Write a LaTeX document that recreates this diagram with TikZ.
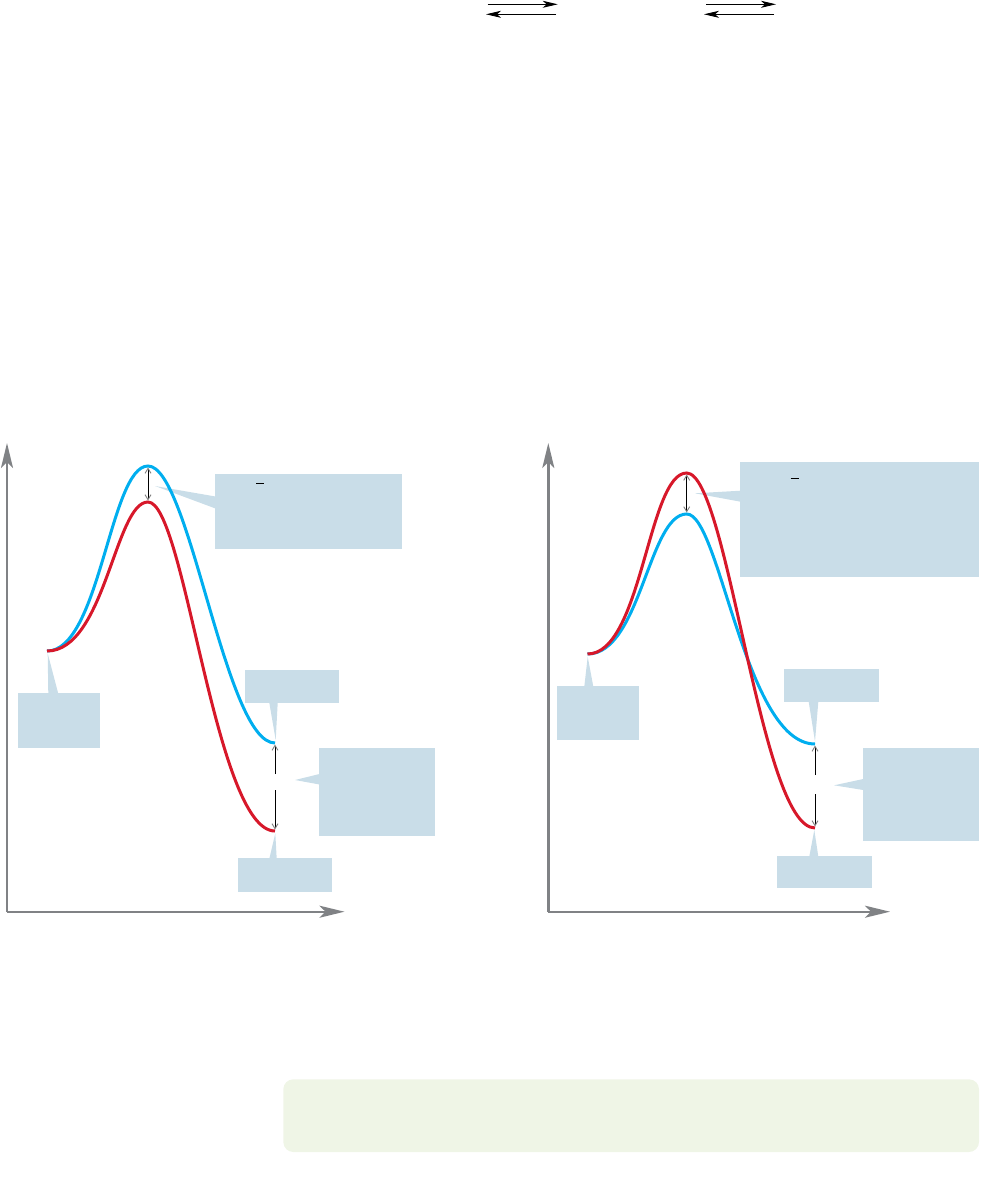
\documentclass[tikz,border=0pt]{standalone}
\usetikzlibrary{arrows.meta}
\definecolor{axisgray}{HTML}{808285}
\definecolor{curveblue}{HTML}{00AEEF}
\definecolor{curvered}{HTML}{D7182A}
\definecolor{callout}{HTML}{C9DDE8}
\definecolor{notegreen}{HTML}{EFF5E6}
\begin{document}
\begin{tikzpicture}[x=1pt,y=-1pt,
  axis/.style={draw=axisgray,line width=2.4pt,-{Stealth[length=25pt,width=12pt,inset=6pt]}},
  eqarrow/.style={draw=black,line width=1pt,-{Stealth[length=15pt,width=7pt,inset=4pt]}},
  bluecurve/.style={draw=curveblue,line width=3pt},
  redcurve/.style={draw=curvered,line width=3pt},
  gaparrow/.style={draw=black,line width=0.9pt,-{Straight Barb[length=5pt,width=6pt,color=gray]}},
  gapboth/.style={draw=black,line width=0.9pt,{Straight Barb[length=5pt,width=6pt,color=gray]}-{Straight Barb[length=5pt,width=6pt,color=gray]}},
  box/.style={fill=callout,inner sep=0pt,outer sep=0pt},
  pointer/.style={fill=callout},
  bar/.style={draw=black,line width=0.9pt}
]
\useasboundingbox (0,0) rectangle (980,1182);

% ---------- top equilibrium arrows ----------
\coordinate (e1a) at (487.7,4.3); \coordinate (e1b) at (557.7,4.3);
\coordinate (e1c) at (556,14.3);  \coordinate (e1d) at (486,14.3);
\coordinate (e2a) at (706,4.3);   \coordinate (e2b) at (776,4.3);
\coordinate (e2c) at (774,14.3);  \coordinate (e2d) at (704,14.3);
\draw[eqarrow] (e1a) -- (e1b);
\draw[eqarrow] (e1c) -- (e1d);
\draw[eqarrow] (e2a) -- (e2b);
\draw[eqarrow] (e2c) -- (e2d);

% ================= LEFT PANEL =================
\coordinate (LO) at (7,911.7);
\coordinate (LY) at (7,443);
\coordinate (LX) at (344.5,911.7);
\draw[axis] (LO) -- (LY);
\draw[axis] (LO) -- (LX);

\coordinate (LS)  at (47,651);
\coordinate (LBP) at (148,466);
\coordinate (LRP) at (148,502);
\coordinate (LBE) at (275,743);
\coordinate (LRE) at (275,831);

% callout boxes
\path[box] (215,474) rectangle (402,548.7);
\coordinate (Lp1) at (155,486); \coordinate (Lp1a) at (215.5,496.5); \coordinate (Lp1b) at (215.5,508.5);
\fill[pointer] (Lp1) -- (Lp1a) -- (Lp1b) -- cycle;
\draw[bar] (256,483.3) -- (264,483.3);

\path[box] (17.7,693.3) rectangle (100,747.7);
\coordinate (Lp2) at (47.7,653.3); \coordinate (Lp2a) at (48.3,693.8); \coordinate (Lp2b) at (58.3,693.8);
\fill[pointer] (Lp2) -- (Lp2a) -- (Lp2b) -- cycle;

\path[box] (245,670) rectangle (339,703.3);
\coordinate (Lp3) at (275.7,740); \coordinate (Lp3a) at (269.3,702.8); \coordinate (Lp3b) at (277.7,702.8);
\fill[pointer] (Lp3) -- (Lp3a) -- (Lp3b) -- cycle;

\path[box] (319,747.7) rectangle (435.3,835.7);
\coordinate (Lp4) at (295,780); \coordinate (Lp4a) at (319.5,774); \coordinate (Lp4b) at (319.5,784.5);
\fill[pointer] (Lp4) -- (Lp4a) -- (Lp4b) -- cycle;

\path[box] (237.7,858.3) rectangle (332,891.7);
\coordinate (Lp5) at (275.3,833.3); \coordinate (Lp5a) at (269.3,858.8); \coordinate (Lp5b) at (276.7,858.8);
\fill[pointer] (Lp5) -- (Lp5a) -- (Lp5b) -- cycle;

% curves
\draw[bluecurve] (LS) .. controls +(53,0) and +(-38,0) .. (LBP)
                      .. controls +(42,0) and +(-50,0) .. (LBE);
\draw[redcurve]  (LS) .. controls +(58,0) and +(-33,0) .. (LRP)
                      .. controls +(37,0) and +(-60,0) .. (LRE);

% gap arrows
\coordinate (Lg1) at (148,467.5); \coordinate (Lg2) at (148,500.5);
\draw[gapboth] (Lg1) -- (Lg2);
\coordinate (Lg3) at (275,774); \coordinate (Lg4) at (275,744.5);
\coordinate (Lg5) at (275,790); \coordinate (Lg6) at (275,829.5);
\draw[gaparrow] (Lg3) -- (Lg4);
\draw[gaparrow] (Lg5) -- (Lg6);

% ================= RIGHT PANEL =================
\coordinate (RO) at (548.3,911.7);
\coordinate (RY) at (548.3,443);
\coordinate (RX) at (890,911.7);
\draw[axis] (RO) -- (RY);
\draw[axis] (RO) -- (RX);

\coordinate (RS)  at (587.5,654);
\coordinate (RRP) at (686.7,473);
\coordinate (RBP) at (686.7,514);
\coordinate (RBE) at (815,744);
\coordinate (RRE) at (815,828);

\path[box] (740,461.7) rectangle (979,576.7);
\coordinate (Rp1) at (695,493.3); \coordinate (Rp1a) at (740.5,490.7); \coordinate (Rp1b) at (740.5,501.7);
\fill[pointer] (Rp1) -- (Rp1a) -- (Rp1b) -- cycle;
\draw[bar] (790.7,478.3) -- (798.7,478.3);

\path[box] (557.3,686) rectangle (639.3,740);
\coordinate (Rp2) at (587.7,656.7); \coordinate (Rp2a) at (584.3,686.5); \coordinate (Rp2b) at (593.3,686.5);
\fill[pointer] (Rp2) -- (Rp2a) -- (Rp2b) -- cycle;

\path[box] (784.3,669.3) rectangle (878.7,702.3);
\coordinate (Rp3) at (815,741.5); \coordinate (Rp3a) at (808.7,701.8); \coordinate (Rp3b) at (818.3,701.8);
\fill[pointer] (Rp3) -- (Rp3a) -- (Rp3b) -- cycle;

\path[box] (862.7,747.7) rectangle (979,841);
\coordinate (Rp4) at (834,785.3); \coordinate (Rp4a) at (863.2,779); \coordinate (Rp4b) at (863.2,790);
\fill[pointer] (Rp4) -- (Rp4a) -- (Rp4b) -- cycle;

\path[box] (777.3,856) rectangle (871.7,888.3);
\coordinate (Rp5) at (814.3,830); \coordinate (Rp5a) at (809.3,856.5); \coordinate (Rp5b) at (818.3,856.5);
\fill[pointer] (Rp5) -- (Rp5a) -- (Rp5b) -- cycle;

% curves
\draw[bluecurve] (RS) .. controls +(53,0) and +(-38,0) .. (RBP)
                      .. controls +(33.3,0) and +(-70,0) .. (RBE);
\draw[redcurve]  (RS) .. controls +(54.5,0) and +(-38.7,0) .. (RRP)
                      .. controls +(41.3,0) and +(-55,0) .. (RRE);

% gap arrows
\coordinate (Rg1) at (686.7,474.5); \coordinate (Rg2) at (686.7,512.5);
\draw[gapboth] (Rg1) -- (Rg2);
\coordinate (Rg3) at (815,775); \coordinate (Rg4) at (815,745.5);
\coordinate (Rg5) at (815,794); \coordinate (Rg6) at (815,826.5);
\draw[gaparrow] (Rg3) -- (Rg4);
\draw[gaparrow] (Rg5) -- (Rg6);

% ---------- bottom note box ----------
\path[fill=notegreen,rounded corners=10pt] (283.3,1079.3) rectangle (979,1152);
\end{tikzpicture}
\end{document}
